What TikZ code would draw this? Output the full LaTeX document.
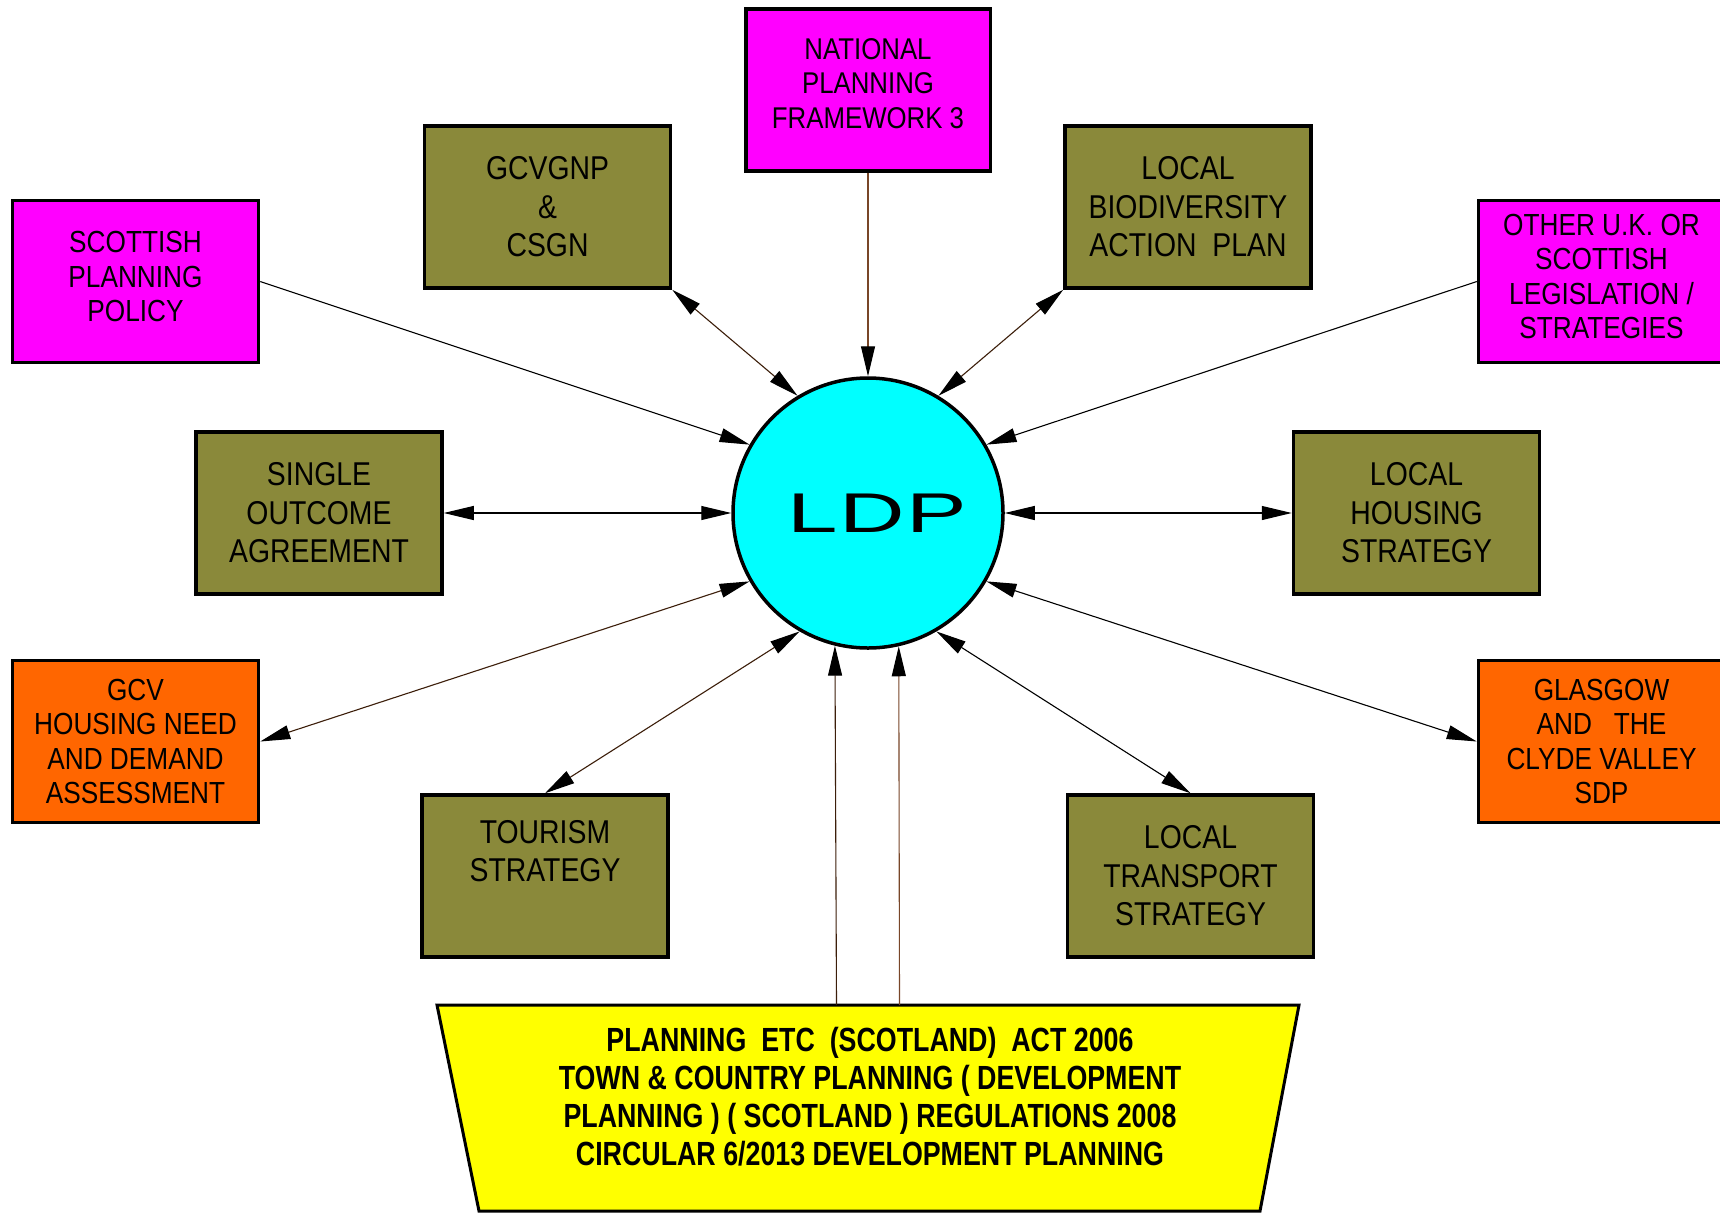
\documentclass[tikz,border=0pt]{standalone}
\usepackage{fontspec}
\setmainfont{Liberation Sans}[FakeStretch=0.86]
\newfontfamily\lawfont{Liberation Sans}[FakeStretch=0.80]
\newfontfamily\ldpfont{Liberation Sans}
\usetikzlibrary{arrows.meta}
\definecolor{cOlive}{RGB}{138,137,58}
\definecolor{cMagenta}{RGB}{255,0,255}
\definecolor{cOrange}{RGB}{255,102,0}
\definecolor{cCyan}{RGB}{0,255,255}
\definecolor{cYellow}{RGB}{255,255,0}
\definecolor{darkbrown}{RGB}{60,30,10}
\definecolor{midbrown}{RGB}{120,70,40}
\tikzset{bigtri/.tip={Triangle[length=30pt,width=14pt,color=black]}}
\begin{document}
\begin{tikzpicture}[x=1pt,y=-1pt,
  box/.style={draw=black, line width=3.5pt, minimum width=246pt, minimum height=162pt, inner sep=0pt, align=center},
  magentabox/.style={box, fill=cMagenta, font=\fontsize{30.5}{34.4}\selectfont},
  orangebox/.style={box, fill=cOrange, font=\fontsize{30.5}{34.4}\selectfont},
  olivebox/.style={box, fill=cOlive, font=\fontsize{33}{38.4}\selectfont},
  conn/.style={line width=1.1pt, draw=black},
  one/.style={conn, -bigtri},
  two/.style={conn, bigtri-bigtri}]
\useasboundingbox (0,0) rectangle (1720,1213);
\fill[white] (0,0) rectangle (1720,1213);

\node[magentabox, minimum width=244.5pt, font=\fontsize{30}{34.5}\selectfont] (npf) at (868,90) {NATIONAL\\PLANNING\\FRAMEWORK 3\\[-21.5pt]\mbox{}};
\node[olivebox] (gcv) at (547.5,207) {GCVGNP\\\&\\CSGN};
\node[olivebox] (lbap) at (1188,207) {LOCAL\\BIODIVERSITY\\ACTION\ \ PLAN};
\node[magentabox] (spp) at (135.5,281.5) {SCOTTISH\\PLANNING\\POLICY\\[-24.4pt]\mbox{}};
\node[magentabox] (other) at (1601.5,281.5) {OTHER U.K. OR\\SCOTTISH\\LEGISLATION /\\STRATEGIES\\[-24.4pt]\mbox{}};
\node[olivebox] (soa) at (319,513) {SINGLE\\OUTCOME\\AGREEMENT};
\node[olivebox] (lhs) at (1416.5,513) {LOCAL\\HOUSING\\STRATEGY};
\node[orangebox] (hnda) at (135.5,741.5) {GCV\\HOUSING NEED\\AND DEMAND\\ASSESSMENT};
\node[orangebox] (sdp) at (1601.5,741.5) {GLASGOW\\AND\ \ \ THE\\CLYDE VALLEY\\SDP};
\node[olivebox] (tour) at (545,876) {TOURISM\\STRATEGY\\\strut};
\node[olivebox] (lts) at (1190.5,876) {LOCAL\\TRANSPORT\\STRATEGY};

\node[circle, draw=black, line width=3.5pt, fill=cCyan, minimum size=270pt, inner sep=0pt] (ldp) at (868,513)
  {\hspace*{18pt}{\ldpfont\fontsize{56}{60}\selectfont\scalebox{1.62}[1]{L\kern1pt D\kern1pt P}}};

\draw[fill=cYellow, line width=3pt, line join=miter] (437,1005) -- (1299,1005) -- (1260,1211) -- (479,1211) -- cycle;
\node[font=\lawfont\bfseries\fontsize{33.5}{38}\selectfont, align=center] (law) at (870,1097)
  {PLANNING\ \ ETC\ \ (SCOTLAND)\ \ ACT 2006\\TOWN \& COUNTRY PLANNING ( DEVELOPMENT\\PLANNING ) ( SCOTLAND ) REGULATIONS 2008\\CIRCULAR 6/2013 DEVELOPMENT PLANNING};
\coordinate (lawA) at (836.5,1005);
\coordinate (lawB) at (899.5,1005);

\draw[one] (spp.east) -- (ldp.150);
\draw[two, draw=darkbrown] (gcv.south east) -- (ldp.121);
\draw[one, draw=midbrown] (npf.south) -- (ldp.north);
\draw[two, draw=darkbrown] (lbap.south west) -- (ldp.59);
\draw[one] (other.west) -- (ldp.30);
\draw[two] (soa.east) -- (ldp.west);
\draw[two] (ldp.east) -- (lhs.west);
\draw[two, draw=darkbrown] (ldp.210) -- (hnda.east);
\draw[two, draw=darkbrown] (ldp.240) -- (tour.north);
\draw[two] (ldp.300) -- (lts.north);
\draw[two] (ldp.330) -- (sdp.west);
\draw[one, draw=darkbrown] (lawA) -- (ldp.256.5);
\draw[one, draw=midbrown] (lawB) -- (ldp.283.5);
\end{tikzpicture}
\end{document}
